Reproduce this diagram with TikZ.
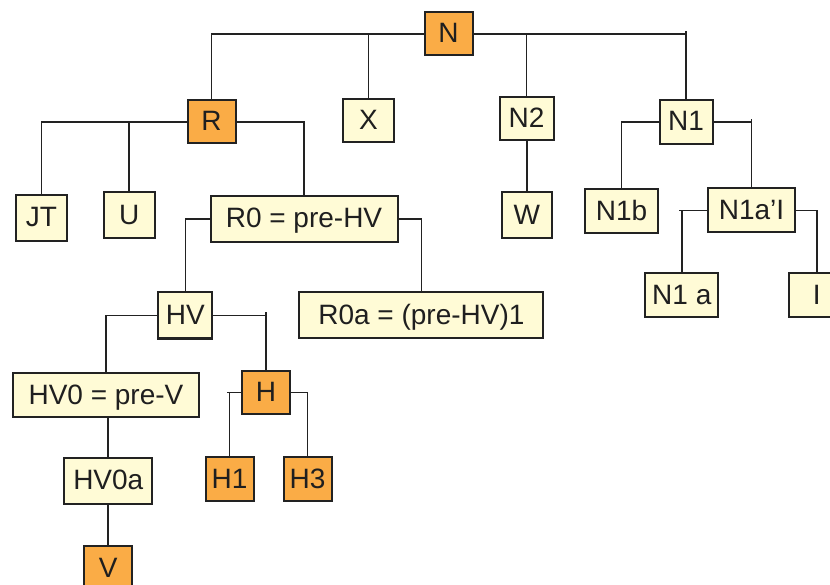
\documentclass[tikz,border=0pt]{standalone}
\usepackage{fontspec}
\setmainfont{Liberation Sans}
\definecolor{org}{RGB}{250,172,70}
\definecolor{crm}{RGB}{255,251,214}
\definecolor{ln}{RGB}{34,34,34}
\begin{document}
\begin{tikzpicture}[x=1pt,y=-1pt,
  box/.style={draw=ln, line width=2pt, font=\fontsize{28}{30}\selectfont, text=black!88,
    inner sep=0pt, text height=20pt, text depth=2pt, anchor=center},
  hi/.style={box, fill=org},
  lo/.style={box, fill=crm},
  wire/.style={draw=ln, line width=1.7pt}]
\useasboundingbox (0,0) rectangle (830,585);
\fill[white] (0,0) rectangle (830,585);
\clip (0,0) rectangle (830,585);
% nodes
\node[hi, minimum width=48pt, minimum height=43pt] (N) at (448.5,34) {N};
\node[hi, minimum width=48pt, minimum height=43pt] (R) at (211.5,122) {R};
\node[lo, minimum width=51pt, minimum height=43pt] (X) at (368.5,121) {X};
\node[lo, minimum width=54pt, minimum height=43pt] (N2) at (526.6,118.5) {N2};
\node[lo, minimum width=53pt, minimum height=44pt] (N1) at (686,122) {N1};
\node[lo, minimum width=51pt, minimum height=46pt] (JT) at (41.5,218) {JT};
\node[lo, minimum width=51pt, minimum height=46pt] (U) at (129.3,215.5) {U};
\node[lo, minimum width=187pt, minimum height=46pt] (R0) at (304,219) {R0 = pre-HV};
\node[lo, minimum width=50pt, minimum height=46pt] (W) at (526.8,215.5) {W};
\node[lo, minimum width=73pt, minimum height=44pt] (N1b) at (621.5,211.3) {N1b};
\node[lo, minimum width=87pt, minimum height=44pt] (N1aI) at (751.5,210.5) {N1a’I};
\node[lo, minimum width=54pt, minimum height=46pt] (HV) at (185.4,315.5) {HV};
\node[lo, minimum width=244pt, minimum height=46pt] (R0a) at (421.4,315) {R0a = (pre-HV)1};
\node[lo, minimum width=73pt, minimum height=44pt] (N1a) at (681.8,295.3) {N1 a};
\node[lo, minimum width=55pt, minimum height=44pt] (I) at (816.7,295.3) {I};
\node[lo, minimum width=186pt, minimum height=44pt] (HV0) at (106,395.3) {HV0 = pre-V};
\node[hi, minimum width=48pt, minimum height=43pt] (H) at (266,392.5) {H};
\node[hi, minimum width=48pt, minimum height=44pt] (H1) at (229.5,479.3) {H1};
\node[hi, minimum width=48pt, minimum height=44pt] (H3) at (307.5,479.3) {H3};
\node[lo, minimum width=88pt, minimum height=46pt] (HV0a) at (108.3,480.7) {HV0a};
\node[hi, minimum width=48pt, minimum height=44pt] (V) at (108.3,568) {V};
% connectors
\draw[wire] (N.west) -| (R.north);
\draw[wire] (X.north) -- (X.north |- N.west);
\draw[wire] (N.east) -| (N1.north);
\draw[wire] (N1.north |- N.east) -- ++(0,-3);
\draw[wire] (N2.north) -- (N2.north |- N.east);
\draw[wire] (R.west) -| (JT.north);
\draw[wire] (U.north) -- (U.north |- R.west);
\draw[wire] (R.east) -| (R0.north);
\draw[wire] (W.north) -- (W.north |- N2.south);
\draw[wire] (N1.west) -| (N1b.north);
\draw[wire] (N1.east) -| (N1aI.north);
\draw[wire] (N1aI.north |- N1.east) -- ++(0,-3);
\draw[wire] (R0.west) -| (HV.north);
\draw[wire] (R0.east) -| (R0a.north);
\draw[wire] (N1aI.west) -| (N1a.north);
\draw[wire] (N1a.north |- N1aI.west) -- ++(-3,0);
\draw[wire] (N1aI.east) -| (I.north);
\draw[wire] (HV.west) -| (HV0.north);
\draw[wire] (HV.east) -| (H.north);
\draw[wire] (H.north |- HV.east) -- ++(0,-3);
\draw[wire] (HV0a.north |- HV0.south) -- (HV0a.north);
\draw[wire] (HV0a.south) -- (V.north);
\draw[wire] (H.west) -| (H1.north);
\draw[wire] (H1.north |- H.west) -- ++(-3,0);
\draw[wire] (H.east) -| (H3.north);
\end{tikzpicture}
\end{document}
